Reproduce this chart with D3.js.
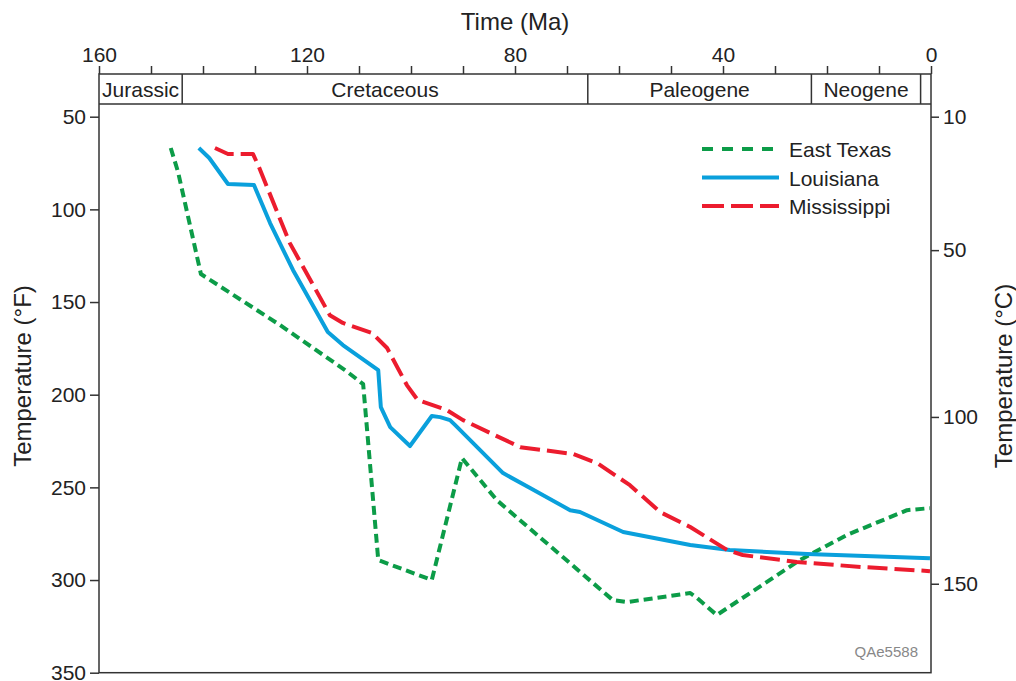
<!DOCTYPE html>
<html>
<head>
<meta charset="utf-8">
<script src="https://cdn.jsdelivr.net/npm/d3@7"></script>
<style>
  body { margin: 0; background: #fff; }
  svg { font-family: "Liberation Sans", Arial, sans-serif; }
  .axis text { fill: #222; font-size: 21px; }
  .axis line { stroke: #333; stroke-width: 1.5; }
</style>
</head>
<body>
<svg></svg>
<script>
// ---- data ----
var periods = ["Jurassic", "Cretaceous", "Paleogene", "Neogene", ""];
var periodBounds = [160, 144, 66, 23, 2, 0];

var timeTicks = [160, 150, 140, 130, 120, 110, 100, 90, 80, 70, 60, 50, 40, 30, 20, 10, 0];
var timeLabels = [160, 120, 80, 40, 0];
var tempFTicks = [50, 100, 150, 200, 250, 300, 350];
var tempCTicks = [10, 50, 100, 150];

// [Ma, °F]
var eastTexas = [
  [146.2, 66.9], [144.8, 79.8], [140.4, 134.9], [125.2, 162.4], [112.7, 186.7],
  [109.2, 194.3], [106.3, 289.2], [96.0, 300.0], [90.2, 234.2], [83.5, 256.9],
  [70.8, 287.6], [61.2, 310.8], [58.5, 311.9], [46.3, 307.0], [45.0, 309.7],
  [41.2, 318.9], [25.2, 289.2], [16.2, 275.7], [4.6, 262.3], [0.2, 261.2]
];
var louisiana = [
  [140.8, 66.9], [138.8, 72.3], [135.2, 86.3], [130.2, 86.9], [127.1, 107.4],
  [122.7, 132.7], [116.0, 166.2], [113.1, 173.2], [106.3, 186.7], [105.8, 206.7],
  [104.0, 217.5], [100.2, 227.7], [96.0, 211.5], [94.4, 212.1], [92.5, 213.7],
  [91.5, 216.4], [82.3, 242.3], [77.1, 250.4], [69.4, 262.3], [67.5, 263.3],
  [59.2, 274.1], [46.3, 281.1], [38.7, 283.8], [23.8, 286.0], [0.2, 288.2]
];
var mississippi = [
  [137.7, 66.9], [135.2, 70.1], [130.4, 70.1], [129.4, 76.1], [123.3, 118.2],
  [115.6, 157.1], [113.1, 161.3], [107.5, 166.7], [104.6, 174.8], [100.8, 194.8],
  [98.7, 202.9], [93.1, 208.3], [90.0, 213.7], [79.0, 228.3], [68.8, 232.0],
  [64.2, 236.9], [57.9, 248.8], [52.1, 263.3], [46.3, 271.4], [39.2, 283.8],
  [36.2, 286.5], [25.8, 290.3], [13.1, 293.0], [0.2, 295.2]
];

var seriesNames = ["East Texas", "Louisiana", "Mississippi"];
var seriesData = [eastTexas, louisiana, mississippi];
var seriesColors = ["#0c9c48", "#0aa0dc", "#ec1c2e"];
var seriesDash = ["9,5", null, "20,7"];
var legendDash = ["11,9", null, "22,7"];

// ---- layout ----
var W = 1016, H = 681;
var plotL = 99, plotR = 931, plotT = 74, bandB = 104, plotB = 672.7;

var svg = d3.select("svg").attr("width", W).attr("height", H);

var x = d3.scaleLinear().domain([160, 0]).range([plotL, plotR]);
var yF = d3.scaleLinear().domain([50, 350]).range([116.7, plotB]);
var yC = d3.scaleLinear().domain([10, 150])
    .range([yF(10 * 9 / 5 + 32), yF(150 * 9 / 5 + 32)]);

// axes
svg.append("g").attr("class", "axis")
    .attr("transform", "translate(0," + plotT + ")")
    .call(d3.axisTop(x).tickValues(timeTicks).tickSize(8).tickPadding(4)
      .tickFormat(function(d) { return timeLabels.indexOf(d) >= 0 ? d : ""; }));

svg.append("g").attr("class", "axis")
    .attr("transform", "translate(" + plotL + ",0)")
    .call(d3.axisLeft(yF).tickValues(tempFTicks).tickSize(9).tickPadding(4));

svg.append("g").attr("class", "axis")
    .attr("transform", "translate(" + plotR + ",0)")
    .call(d3.axisRight(yC).tickValues(tempCTicks).tickSize(8).tickPadding(4));

svg.selectAll(".axis .domain").remove();
svg.selectAll(".axis").attr("font-family", null).attr("font-size", null);

// frame + period band
var frame = svg.append("g").attr("stroke", "#333").attr("stroke-width", 1.5).attr("fill", "none");
frame.append("rect")
    .attr("x", plotL).attr("y", plotT)
    .attr("width", plotR - plotL).attr("height", plotB - plotT);
frame.append("line")
    .attr("x1", plotL).attr("x2", plotR)
    .attr("y1", bandB).attr("y2", bandB);

frame.selectAll(".bound")
    .data(periodBounds.slice(1, -1))
    .enter().append("line")
    .attr("x1", function(d) { return x(d); })
    .attr("x2", function(d) { return x(d); })
    .attr("y1", plotT).attr("y2", bandB);

svg.append("g").selectAll("text")
    .data(periods)
    .enter().append("text")
    .attr("x", function(d, i) { return (x(periodBounds[i]) + x(periodBounds[i + 1])) / 2; })
    .attr("y", 97)
    .attr("text-anchor", "middle")
    .attr("font-size", 21)
    .attr("fill", "#222")
    .text(function(d) { return d; });

// axis titles
svg.append("text")
    .attr("x", (plotL + plotR) / 2).attr("y", 30)
    .attr("text-anchor", "middle").attr("font-size", 24).attr("fill", "#222")
    .text("Time (Ma)");

svg.append("text")
    .attr("transform", "translate(31,376) rotate(-90)")
    .attr("text-anchor", "middle").attr("font-size", 24).attr("fill", "#222")
    .text("Temperature (°F)");

svg.append("text")
    .attr("transform", "translate(1012,376) rotate(-90)")
    .attr("text-anchor", "middle").attr("font-size", 24).attr("fill", "#222")
    .text("Temperature (°C)");

// lines
var line = d3.line()
    .x(function(d) { return x(d[0]); })
    .y(function(d) { return yF(d[1]); });

svg.append("g").selectAll("path")
    .data(seriesData)
    .enter().append("path")
    .attr("d", line)
    .attr("fill", "none")
    .attr("stroke", function(d, i) { return seriesColors[i]; })
    .attr("stroke-width", 4)
    .attr("stroke-linejoin", "round")
    .attr("stroke-dasharray", function(d, i) { return seriesDash[i]; });

// legend
var legend = svg.append("g").selectAll("g")
    .data(seriesNames)
    .enter().append("g")
    .attr("transform", function(d, i) { return "translate(702," + (149 + i * 28.5) + ")"; });

legend.append("line")
    .attr("x1", 0).attr("x2", 77)
    .attr("stroke", function(d, i) { return seriesColors[i]; })
    .attr("stroke-width", 4)
    .attr("stroke-dasharray", function(d, i) { return legendDash[i]; });

legend.append("text")
    .attr("x", 87).attr("y", 8)
    .attr("font-size", 21).attr("fill", "#222")
    .text(function(d) { return d; });

// figure id
svg.append("text")
    .attr("x", 918).attr("y", 657)
    .attr("text-anchor", "end").attr("font-size", 15).attr("fill", "#888")
    .text("QAe5588");
</script>
</body>
</html>
